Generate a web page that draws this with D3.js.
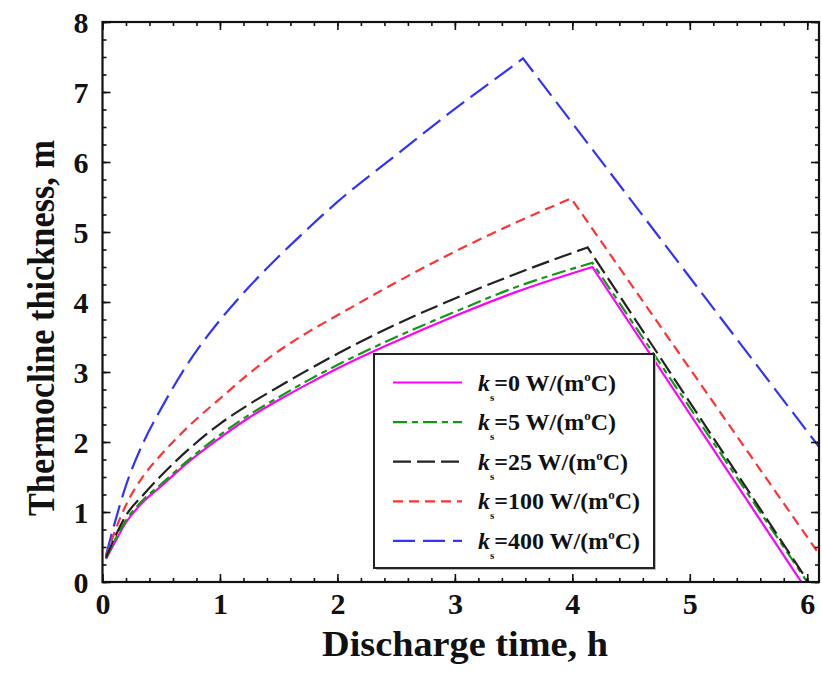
<!DOCTYPE html>
<html><head><meta charset="utf-8">
<script src="https://cdn.jsdelivr.net/npm/d3@7"></script>
<style>
body{margin:0;background:#fff;}
text{font-family:"Liberation Serif","Times New Roman",serif;font-weight:bold;}
</style></head>
<body><svg id="c" width="822" height="679"></svg>
<script>
// Data
const seriesNames = ["0", "5", "25", "100", "400"];
const seriesColors = ["#ff00ff", "#119911", "#222222", "#ff3333", "#3333ff"];
const seriesDash = ["none", "14,5,6,5", "18,6", "10,6", "22,8"];
const riseT = [0.03, 0.1, 0.2, 0.35, 0.5, 0.75, 1.0, 1.25, 1.5, 1.75, 2.0, 2.5, 3.0, 3.5];
const rise_k0   = [0.33, 0.55, 0.85, 1.15, 1.37, 1.74, 2.06, 2.35, 2.60, 2.83, 3.05, 3.44, 3.80, 4.13];
const rise_k5   = [0.34, 0.58, 0.88, 1.18, 1.40, 1.77, 2.10, 2.39, 2.64, 2.88, 3.10, 3.50, 3.86, 4.20];
const rise_k25  = [0.35, 0.62, 0.95, 1.25, 1.52, 1.92, 2.26, 2.54, 2.79, 3.03, 3.26, 3.68, 4.05, 4.39];
const rise_k100 = [0.36, 0.70, 1.10, 1.52, 1.82, 2.25, 2.62, 2.98, 3.30, 3.57, 3.81, 4.28, 4.72, 5.12];
const rise_k400 = [0.38, 0.82, 1.38, 2.00, 2.48, 3.18, 3.74, 4.22, 4.65, 5.05, 5.43, 6.10, 6.76, 7.38];
const peakT = [4.17, 4.17, 4.13, 3.99, 3.58];
const peakV = [4.50, 4.56, 4.78, 5.48, 7.48];
const endT  = [5.95, 6.00, 6.01, 6.10, 6.10];
const endV  = [0.00, 0.00, 0.00, 0.40, 1.93];
const xTicks = [0, 1, 2, 3, 4, 5, 6];
const yTicks = [0, 1, 2, 3, 4, 5, 6, 7, 8];

const rises = [rise_k0, rise_k5, rise_k25, rise_k100, rise_k400];

const svg = d3.select("#c");
const L = 102.5, R = 819, T = 22, B = 582;
const x = d3.scaleLinear().domain([0, 6.1]).range([L, R]);
const y = d3.scaleLinear().domain([0, 8]).range([B, T]);

svg.append("clipPath").attr("id","clip").append("rect")
  .attr("x", L).attr("y", T).attr("width", R-L).attr("height", B-T);

const g = svg.append("g").attr("clip-path","url(#clip)");
const lineRise = d3.line().x(d=>x(d[0])).y(d=>y(d[1])).curve(d3.curveMonotoneX);

const order = [4, 3, 0, 1, 2];
order.forEach(i => {
  const pts = riseT.filter(t => t < peakT[i]).map((t, j) => [t, rises[i][j]]);
  pts.push([peakT[i], peakV[i]]);
  const dStr = lineRise(pts) + "L" + x(endT[i]) + "," + y(endV[i]);
  g.append("path").attr("d", dStr).attr("fill","none")
    .attr("stroke", seriesColors[i]).attr("stroke-width", 2.2)
    .attr("stroke-dasharray", seriesDash[i]);
});

svg.append("rect").attr("x", L).attr("y", T).attr("width", R-L).attr("height", B-T)
  .attr("fill","none").attr("stroke","#111").attr("stroke-width",2.2);

const axB = d3.axisBottom(x).tickValues(xTicks).tickSize(-8).tickFormat(d3.format("d"));
const axT = d3.axisTop(x).tickValues(xTicks).tickSize(-8).tickFormat("");
const axL = d3.axisLeft(y).tickValues(yTicks).tickSize(-8).tickFormat(d3.format("d"));
const axR = d3.axisRight(y).tickValues(yTicks).tickSize(-8).tickFormat("");
const xMinor = d3.range(0, 6.1001, 0.2).map(v=>+v.toFixed(2));
const yMinor = d3.range(0, 8.0001, 0.25).map(v=>+v.toFixed(2));
const mB = d3.axisBottom(x).tickValues(xMinor).tickSize(-4).tickFormat("");
const mT = d3.axisTop(x).tickValues(xMinor).tickSize(-4).tickFormat("");
const mL = d3.axisLeft(y).tickValues(yMinor).tickSize(-4).tickFormat("");
const mR = d3.axisRight(y).tickValues(yMinor).tickSize(-4).tickFormat("");

function place(ax, tr){
  const a = svg.append("g").attr("transform", tr).call(ax);
  a.select(".domain").remove();
  a.selectAll("line").attr("stroke","#111").attr("stroke-width",1.6);
  return a;
}
const gb = place(axB, `translate(0,${B})`);
place(axT, `translate(0,${T})`);
const gl = place(axL, `translate(${L},0)`);
place(axR, `translate(${R},0)`);
place(mB, `translate(0,${B})`); place(mT, `translate(0,${T})`);
place(mL, `translate(${L},0)`); place(mR, `translate(${R},0)`);

gb.selectAll("text").attr("y", 11).attr("dy","0.71em")
  .style("font-size","30px").style("font-family","Liberation Serif").style("font-weight","bold").attr("fill","#111");
gl.selectAll("text").attr("x", -14).attr("dy","0.34em")
  .style("font-size","30px").style("font-family","Liberation Serif").style("font-weight","bold").attr("fill","#111");

svg.append("text").attr("x", 465).attr("y", 656).attr("text-anchor","middle")
  .style("font-size","35px").attr("fill","#111")
  .attr("textLength", 286).attr("lengthAdjust","spacingAndGlyphs")
  .text("Discharge time, h");
svg.append("text").attr("transform", `translate(54,328) rotate(-90)`)
  .attr("text-anchor","middle").style("font-size","37px").attr("fill","#111")
  .attr("textLength", 376).attr("lengthAdjust","spacingAndGlyphs")
  .text("Thermocline thickness, m");

// legend
const lg = svg.append("g");
lg.append("rect").attr("x", 376).attr("y", 356).attr("width", 280).attr("height", 214)
  .attr("fill","#bbb");
lg.append("rect").attr("x", 374).attr("y", 354).attr("width", 280).attr("height", 214)
  .attr("fill","#fff").attr("stroke","#222").attr("stroke-width",2);
seriesNames.forEach((nm, i) => {
  const cy = 382.5 + i * 39.6;
  lg.append("line").attr("x1", 393).attr("x2", 462).attr("y1", cy).attr("y2", cy)
    .attr("stroke", seriesColors[i]).attr("stroke-width", 2.2)
    .attr("stroke-dasharray", seriesDash[i]);
  const t = lg.append("text").attr("x", 478).attr("y", cy + 8).style("font-size","24px").attr("fill","#111");
  t.append("tspan").style("font-style","italic").text("k");
  t.append("tspan").attr("dy", 10).style("font-size","11px").text("s");
  t.append("tspan").attr("dy", -10).text("=" + nm + " W/(m");
  t.append("tspan").attr("dy", -10).style("font-size","13px").text("o");
  t.append("tspan").attr("dy", 10).text("C)");
});
</script></body></html>
